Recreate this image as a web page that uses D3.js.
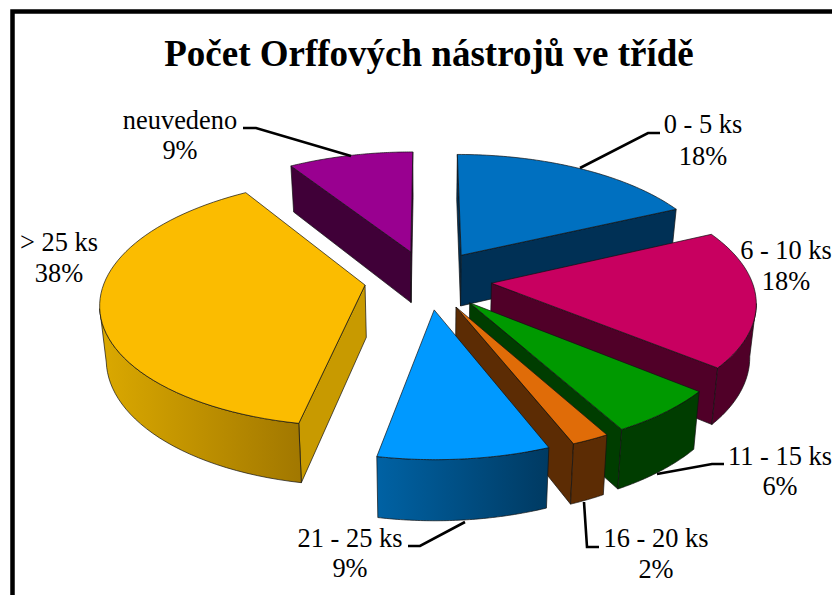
<!DOCTYPE html>
<html><head><meta charset="utf-8">
<style>html,body{margin:0;padding:0;background:#fff}svg{display:block}text{font-family:"Liberation Serif","Times New Roman",serif;fill:#000}</style>
<script src="https://cdn.jsdelivr.net/npm/d3@7/dist/d3.min.js"></script></head>
<body><svg id="c" width="832" height="595"></svg>
<script>
const categories = ["0 - 5 ks","6 - 10 ks","11 - 15 ks","16 - 20 ks","21 - 25 ks","> 25 ks","neuvedeno"];
const percents = [18,18,6,2,9,38,9];
const topColors = ["#0070C0","#C80060","#009900","#E06C08","#0099FF","#FBBC00","#990090"];
const faceColors = ["#003055","#500028","#003D00","#5C2C04","#003C66","#C89A00","#400038"];
const wallStart = ["#003055","#500028","#003D00","#5C2C04","#0062A4","#DBA900","#400038"];
const wallEnd = ["#003055","#500028","#003D00","#5C2C04","#003A62","#A27800","#400038"];
const drawOrder = [6,0,5,1,2,3,4];
const titleText = "Počet Orffových nástrojů ve třídě";
const labelPos = [[703,133,165],[786,259,290],[780,465,495],[656,547,578],[350,547,577],[59,251,282],[180,129,159]];
const leaders = [[[660,133],[648,133],[580,168]],null,[[724,464],[712,464],[657,474]],[[599,547],[587,547],[584,502]],[[408,546],[420,546],[465,522]],null,[[243,128],[256,128],[351,156]]];

const W=832,H=595,cx=428,cy=279.5,R=260,A=120.5,k=0.135,explode=0.245,depth=52,kd=0.12;
const svg=d3.select("#c");
const sx=d3.scaleLinear().domain([-1,1]).range([cx-R,cx+R]);
const sy=d3.scaleLinear().domain([-1,1]).range([cy-A,cy+A]);
const proj=(X,V,low)=>{
  const s=1/(1-k*V), x=sx(X*s), y=sy(V*s);
  if(!low) return [x,y];
  return [cx+(x-cx)*0.98, y+depth/(1-kd*V)];
};
const line=d3.line();
const pie=d3.pie().sort(null).value(d=>d);
const arcs=pie(percents);
const defs=svg.append("defs");
const g=svg.append("g");
const poly=(pts,fill)=>g.append("path").attr("d",line(pts)+"Z").attr("fill",fill).attr("stroke","#111").attr("stroke-width",0.7).attr("stroke-linejoin","round");

drawOrder.forEach(i=>{
  const a=arcs[i], mid=(a.startAngle+a.endAngle)/2;
  const ox=explode*Math.sin(mid), ov=-explode*Math.cos(mid);
  const rim=d3.range(0,61).map(j=>{
    const t=a.startAngle+(a.endAngle-a.startAngle)*j/60;
    return [ox+Math.sin(t),ov-Math.cos(t)];
  });
  const top=rim.map(p=>proj(p[0],p[1]));
  const low=rim.map(p=>proj(p[0],p[1],true));
  const ap=proj(ox,ov), apL=proj(ox,ov,true);
  const n=rim.length-1;
  // radial cut faces, only those turned to the viewer
  if(top[0][0]<ap[0]-1) poly([ap,top[0],low[0],apL],faceColors[i]);
  if(top[n][0]>ap[0]+1) poly([ap,top[n],low[n],apL],faceColors[i]);
  // outer wall: the part of the rim that runs leftwards on screen
  const vis=d3.range(0,n).filter(j=>top[j+1][0]<top[j][0]);
  if(vis.length){
    const j0=vis[0], j1=vis[vis.length-1]+1;
    const id="w"+i, xs=[top[j0][0],top[j1][0]];
    const gr=defs.append("linearGradient").attr("id",id).attr("gradientUnits","userSpaceOnUse")
      .attr("x1",d3.min(xs)).attr("x2",d3.max(xs)).attr("y1",0).attr("y2",0);
    gr.append("stop").attr("offset",0).attr("stop-color",wallStart[i]);
    gr.append("stop").attr("offset",1).attr("stop-color",wallEnd[i]);
    const pts=top.slice(j0,j1+1).concat(low.slice(j0,j1+1).reverse());
    poly(pts,`url(#${id})`);
  }
  poly([ap].concat(top),topColors[i]);
});

// frame
svg.append("path").attr("d",`M12.5,${H} V11.5 H${W}`).attr("fill","none").attr("stroke","#000").attr("stroke-width",4.5);
// title
svg.append("text").attr("x",429).attr("y",66).attr("text-anchor","middle").attr("font-size",37).attr("font-weight","bold").text(titleText);
// labels
categories.forEach((c,i)=>{
  const p=labelPos[i];
  svg.append("text").attr("x",p[0]).attr("y",p[1]).attr("text-anchor","middle").attr("font-size",26.4).text(c);
  svg.append("text").attr("x",p[0]).attr("y",p[2]).attr("text-anchor","middle").attr("font-size",26.4).text(percents[i]+"%");
  if(leaders[i]) svg.append("path").attr("d",line(leaders[i])).attr("fill","none").attr("stroke","#000").attr("stroke-width",2.6);
});
</script></body></html>
